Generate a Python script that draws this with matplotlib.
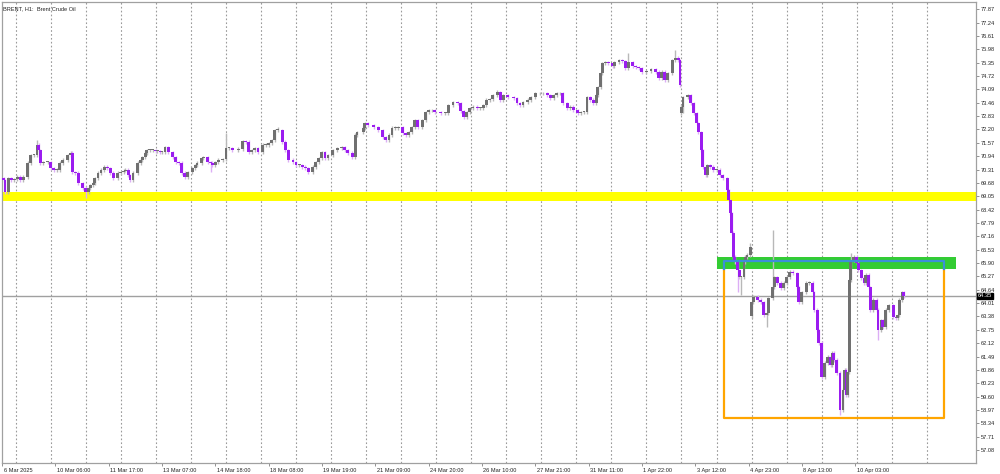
import numpy as np
import matplotlib.pyplot as plt
from matplotlib.transforms import ScaledTranslation, blended_transform_factory

# BRENT H1 - closes, bar = hour index from the left edge
bars = [0, 1, 3, 5, 7, 9, 11, 13, 16, 18, 20, 22, 23, 24, 26, 29, 31, 33, 35, 37,
        39, 42, 44, 45, 47, 49, 52, 54, 56, 57, 59, 60, 62, 64, 66, 68, 70, 72, 75, 77,
        79, 80, 82, 83, 85, 88, 90, 91, 93, 94, 96, 98, 100, 101, 103, 104, 106, 108, 111, 113,
        115, 117, 119, 121, 124, 126, 127, 130, 131, 134, 136, 137, 139, 141, 144,
        146, 148, 150, 154, 157, 159, 161, 163, 165, 167, 170, 172, 174, 176, 178, 180, 183, 185, 187, 190,
        192, 194, 196, 198, 200, 203, 205, 207, 209, 211, 213, 216, 219, 222, 224, 226, 229, 231, 232, 236,
        237, 239, 243, 246, 249, 251, 253, 255, 257, 259, 262, 264, 266, 268, 270, 272, 275, 277, 279, 281,
        283, 287, 290, 292, 295, 298, 300,
        302, 304, 306, 308, 311, 313, 315, 317, 319, 321, 324, 326, 328, 331, 335, 337, 339, 341, 344, 346,
        349, 352, 354, 357, 359, 361, 363, 365, 367, 370, 372, 374, 377, 379, 381, 383, 385, 387, 389, 390,
        392, 393, 395, 397, 400, 401, 404, 406, 408, 410, 413, 415, 417, 419, 422, 425, 428, 430, 432, 434,
        436, 439, 441, 443, 444,
        445, 446, 449, 451, 453, 455, 456, 458, 459, 461, 462, 464, 466, 468, 470, 472, 475, 476, 477, 478,
        479, 480, 482, 483, 484, 486, 487, 488, 490, 491, 492, 495, 497, 499, 501, 502, 505, 506, 508, 510,
        512, 514, 516, 518, 521, 522, 524, 527, 529, 531, 532, 534, 535, 537, 539, 541, 543, 544, 545, 547,
        549, 551, 552, 553, 554, 555, 556, 558, 560, 561, 563, 565, 566, 568, 569, 571, 573, 574, 576, 577,
        579, 581, 584, 586, 587, 588, 590, 591]

closes = [69.80, 69.24, 69.90, 69.80, 69.85, 69.95, 69.80, 69.95, 70.61, 70.98, 70.98, 71.46, 71.22, 70.61, 70.65, 70.65, 70.37, 70.28, 70.28, 70.61,
          70.75, 70.98, 71.08, 70.18, 70.14, 69.66, 69.43, 69.24, 69.43, 69.57, 69.66, 69.90, 70.14, 70.28, 70.42, 70.37, 70.14, 69.90, 70.14, 70.18,
          70.25, 70.28, 70.04, 69.80, 70.14, 70.61, 70.75, 70.89, 71.08, 71.22, 71.22, 71.22, 71.17, 71.17, 71.12, 71.12, 71.36, 71.12, 70.89, 70.65,
          70.61, 70.14, 69.95, 70.18, 70.37, 70.51, 70.61, 70.84, 70.89, 70.65, 70.61, 70.51, 70.65, 70.75, 70.79,
          71.31, 71.31, 71.22, 71.27, 71.64, 71.60, 71.12, 71.22, 71.31, 71.12, 71.46, 71.46, 71.55, 71.69, 72.16, 72.16, 71.60, 71.22, 70.75, 70.65,
          70.51, 70.51, 70.42, 70.37, 70.18, 70.42, 70.65, 70.84, 71.12, 70.84, 70.98, 71.22, 71.31, 71.36, 71.22, 71.08, 70.89, 71.93, 72.07, 72.26,
          72.49, 72.40, 72.30, 72.16, 71.83, 71.69, 71.93, 72.26, 72.26, 72.30, 72.02, 71.93, 72.07, 72.30, 72.63, 72.30, 72.63, 73.01, 73.10, 73.10,
          73.01, 72.96, 72.96, 73.34, 73.48, 73.43, 73.05,
          72.77, 73.01, 73.20, 73.25, 73.20, 73.20, 73.34, 73.58, 73.62, 73.81, 73.95, 73.58, 73.81, 73.72, 73.67, 73.43, 73.34, 73.48, 73.58, 73.72,
          73.90, 73.90, 73.90, 73.81, 73.67, 73.81, 73.90, 73.90, 73.43, 73.20, 73.25, 73.10, 72.96, 73.01, 73.01, 73.72, 73.58, 73.43, 73.81, 74.19,
          74.85, 75.32, 75.37, 75.32, 75.18, 75.37, 75.46, 75.41, 75.08, 75.37, 75.18, 75.13, 75.08, 74.90, 74.94, 75.04, 74.90, 74.61, 74.90, 74.52,
          74.85, 75.46, 75.56, 75.46, 74.28,
          73.25, 73.72, 73.81, 73.43, 72.96, 72.49, 72.07, 71.22, 70.42, 70.04, 70.51, 70.42, 70.28, 70.28, 70.04, 69.90, 69.33, 68.86, 68.25, 67.31,
          66.18, 65.94, 65.56, 65.23, 65.23, 65.94, 66.18, 66.27, 66.65, 64.05, 64.29, 64.15, 64.05, 63.44, 63.53, 64.24, 64.76, 65.23, 64.95, 64.71,
          64.95, 65.23, 65.47, 65.42, 64.76, 64.05, 64.52, 64.95, 64.95, 64.52, 63.68, 62.73, 62.12, 60.52, 61.18, 61.46, 61.08, 61.65, 61.32, 60.71,
          58.96, 59.91, 60.85, 59.67, 60.75, 65.09, 66.03, 66.18, 65.89, 65.56, 65.19, 64.95, 65.33, 64.76, 63.68, 64.15, 63.68, 62.73, 63.20, 62.88,
          63.68, 63.91, 63.35, 63.30, 63.44, 64.15, 64.52, 64.35]

first_open = 69.90
gap_bars = [445, 491]
gap_opens = [72.97, 63.40]

# long wicks
high_bars = [22, 146, 180, 324, 407, 410, 441, 490, 505, 556]
high_prices = [71.70, 72.02, 72.30, 74.05, 75.70, 75.79, 75.93, 66.84, 67.45, 66.37]
low_bars = [54, 136, 446, 482, 484, 501, 549, 574]
low_prices = [68.96, 70.18, 72.96, 64.52, 64.38, 62.88, 58.73, 62.26]

current_price = 64.35
yellow_zone = (68.82, 69.24)
green_zone = (65.62, 66.20, 468.2, 625.0)
box_zone = (58.57, 65.99, 472.8, 617.5)

y_ticks = np.round(77.87 - 0.63 * np.arange(34), 2)
x_tick_bars = np.arange(17) * 35 - 1
x_tick_labels = ["6 Mar 2025", "10 Mar 06:00", "11 Mar 17:00", "13 Mar 07:00", "14 Mar 18:00",
                 "18 Mar 08:00", "19 Mar 19:00", "21 Mar 09:00", "24 Mar 20:00", "26 Mar 10:00",
                 "27 Mar 21:00", "31 Mar 11:00", "1 Apr 22:00", "3 Apr 12:00", "4 Apr 23:00",
                 "8 Apr 13:00", "10 Apr 03:00"]
grid_bars = np.arange(27) * 23 + 8

plt.rcParams['font.family'] = ['Liberation Sans', 'DejaVu Sans']

fig = plt.figure(figsize=(10, 4.74), dpi=100)
ax = fig.add_axes([0.002, 11 / 474, 0.974, 461 / 474])

bars = np.array(bars, dtype=float)
closes = np.array(closes)
opens = np.concatenate([[first_open], closes[:-1]])
for b, o in zip(gap_bars, gap_opens):
    opens[bars == b] = o
pad = 0.08
highs = np.maximum(opens, closes) + pad
lows = np.minimum(opens, closes) - pad
for b, p in zip(high_bars, high_prices):
    highs[bars == b] = p
for b, p in zip(low_bars, low_prices):
    lows[bars == b] = p

up = closes >= opens
wick_cols = np.where(up, "#b8b8b8", "#dcaef5")
body_cols = np.where(up, "#707070", "#9b1cf0")

# grid first (behind everything)
for gb in grid_bars:
    ax.axvline(gb, color="#9a9a9a", lw=0.8, ls=(0, (1.5, 2)), zorder=0)

ax.axhspan(*yellow_zone, color="#ffff00", lw=0, zorder=1)
ax.axhline(current_price, color="#a0a0a0", lw=1, zorder=1)

ax.vlines(bars, lows, highs, colors=wick_cols, lw=1.0, zorder=3)
body_h = np.maximum(np.abs(closes - opens), 0.04)
ax.bar(bars, body_h, bottom=np.minimum(opens, closes), width=1.9, color=body_cols, lw=0, zorder=4)

g_lo, g_hi, g_x0, g_x1 = green_zone
ax.fill_between([g_x0, g_x1], g_lo, g_hi, color="#33cc33", lw=0, zorder=2)
b_lo, b_hi, b_x0, b_x1 = box_zone
ax.plot([b_x0, b_x0, b_x1, b_x1], [g_lo, b_lo, b_lo, g_lo], color="#ffa500", lw=1.6, zorder=5)
ax.plot([b_x0, b_x0, b_x1, b_x1], [g_lo, b_hi, b_hi, g_lo], color="#3c8fd8", lw=1.6, zorder=5)

ax.set_xlim(-0.66, 638.3)
ax.set_ylim(56.47, 78.21)

ax.yaxis.tick_right()
ax.set_yticks(y_ticks)
ax.set_yticklabels([f"{v:.2f}" for v in y_ticks])
ax.set_xticks(x_tick_bars)
ax.set_xticklabels(x_tick_labels)
ax.tick_params(axis="both", labelsize=4.1, length=2.5, width=0.6, color="#808080",
               labelcolor="#222222", pad=0.8)
off = ScaledTranslation(1.5 / 100, 0, fig.dpi_scale_trans)
for lbl in ax.get_xticklabels():
    lbl.set_horizontalalignment("left")
    lbl.set_transform(lbl.get_transform() + off)

for s in ax.spines.values():
    s.set_color("#a0a0a0")
    s.set_linewidth(0.9)

tr = blended_transform_factory(ax.transAxes, ax.transData)
ax.text(1.0015, current_price, "64.35", transform=tr, fontsize=4.1, color="white",
        va="center", ha="left", zorder=10,
        bbox=dict(boxstyle="square,pad=0.15", fc="black", ec="black"))

ax.text(0.001, 0.991, "BRENT, H1:  Brent Crude Oil", transform=ax.transAxes,
        fontsize=4.1, color="#222222", va="top", ha="left")

fig.savefig("out.png", dpi=100)
